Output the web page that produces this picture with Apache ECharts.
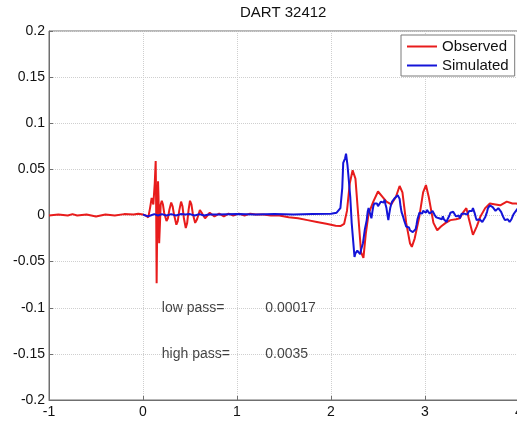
<!DOCTYPE html>
<html>
<head>
<meta charset="utf-8">
<script src="https://cdn.jsdelivr.net/npm/echarts@6/dist/echarts.min.js"></script>
<style>
  html, body { margin: 0; padding: 0; background: #fff; }
  #chart { width: 517px; height: 424px; }
</style>
</head>
<body>
<div id="chart"></div>
<script>
// Axis ranges and ticks
const xTicks = { min: -1, max: 4, step: 1 };
const yTicks = { min: -0.2, max: 0.2, step: 0.05 };

const chartTitle = 'DART 32412';
const seriesNames = ['Observed', 'Simulated'];

// Observed water level anomaly [time, level]
const observed = [
  [-1.00, 0.000], [-0.90, 0.001], [-0.80, 0.000], [-0.75, 0.0015], [-0.70, 0.000],
  [-0.60, 0.001], [-0.50, -0.001], [-0.40, 0.001], [-0.30, 0.000], [-0.20, 0.0015],
  [-0.10, 0.001], [-0.05, 0.002], [0.00, 0.001], [0.03, 0.000], [0.056, -0.002],
  [0.075, 0.008], [0.092, 0.019], [0.11, 0.012], [0.125, 0.035], [0.135, 0.059],
  [0.140, 0.010], [0.145, -0.0735], [0.152, 0.000], [0.160, 0.037], [0.165, 0.020],
  [0.172, -0.030], [0.180, -0.010], [0.188, 0.012], [0.20, 0.016], [0.212, 0.012],
  [0.225, 0.003], [0.25, -0.006], [0.265, -0.003], [0.28, 0.006], [0.30, 0.014],
  [0.315, 0.010], [0.33, 0.001], [0.355, -0.010], [0.37, -0.006], [0.385, 0.005],
  [0.405, 0.015], [0.42, 0.010], [0.435, -0.003], [0.455, -0.0135], [0.47, -0.008],
  [0.485, 0.006], [0.50, 0.016], [0.515, 0.012], [0.53, 0.002], [0.555, -0.008],
  [0.575, -0.004], [0.605, 0.006], [0.63, 0.002], [0.66, -0.003], [0.71, 0.003],
  [0.76, -0.001], [0.81, 0.002], [0.86, -0.001], [0.91, 0.002], [0.96, 0.000],
  [1.02, 0.002], [1.08, 0.000], [1.14, 0.002], [1.20, 0.001], [1.28, 0.001],
  [1.36, 0.000], [1.45, 0.000], [1.55, -0.002], [1.65, -0.003], [1.75, -0.005],
  [1.85, -0.007], [1.95, -0.009], [2.05, -0.011], [2.10, -0.0115], [2.14, -0.009],
  [2.17, 0.005], [2.20, 0.035], [2.23, 0.049], [2.26, 0.040], [2.29, 0.000],
  [2.32, -0.040], [2.345, -0.046], [2.37, -0.020], [2.40, 0.002], [2.45, 0.015],
  [2.50, 0.026], [2.55, 0.020], [2.59, 0.015], [2.64, 0.012], [2.69, 0.020],
  [2.73, 0.032], [2.76, 0.025], [2.80, -0.008], [2.84, -0.030], [2.86, -0.034],
  [2.89, -0.025], [2.94, -0.001], [2.98, 0.025], [3.01, 0.033], [3.04, 0.020],
  [3.09, -0.008], [3.13, -0.016], [3.17, -0.012], [3.22, -0.008], [3.27, -0.005],
  [3.33, -0.004], [3.37, -0.003], [3.41, 0.004], [3.44, 0.008], [3.47, -0.005],
  [3.51, -0.021], [3.55, -0.012], [3.59, -0.001], [3.64, 0.008], [3.69, 0.013],
  [3.75, 0.012], [3.80, 0.011], [3.87, 0.015], [3.93, 0.013], [3.97, 0.013],
  [4.00, 0.012]
];

// Simulated water level anomaly [time, level]
const simulated = [
  [0.00, 0.001], [0.05, -0.001], [0.08, 0.000], [0.12, 0.0015], [0.16, 0.000],
  [0.20, 0.0015], [0.25, 0.000], [0.30, 0.0015], [0.35, 0.000], [0.40, 0.0015],
  [0.45, 0.001], [0.50, 0.0015], [0.55, 0.000], [0.60, 0.0015], [0.65, 0.000],
  [0.70, 0.001], [0.80, 0.001], [1.00, 0.0015], [1.20, 0.001], [1.40, 0.0015],
  [1.60, 0.001], [1.80, 0.0015], [2.00, 0.002], [2.06, 0.003], [2.10, 0.008],
  [2.12, 0.030], [2.13, 0.057], [2.15, 0.062], [2.16, 0.067], [2.175, 0.055],
  [2.19, 0.053], [2.205, 0.020], [2.22, -0.008], [2.25, -0.045], [2.26, -0.041],
  [2.27, -0.043], [2.28, -0.038], [2.29, -0.040], [2.30, -0.038], [2.31, -0.042],
  [2.32, -0.037], [2.34, -0.030], [2.36, -0.015], [2.38, -0.005], [2.39, 0.004],
  [2.40, 0.008], [2.41, 0.004], [2.42, 0.002], [2.43, -0.003], [2.44, 0.004],
  [2.45, 0.010], [2.46, 0.013], [2.47, 0.015], [2.48, 0.011], [2.49, 0.013],
  [2.50, 0.010], [2.51, 0.012], [2.52, 0.011], [2.53, 0.015], [2.54, 0.013],
  [2.55, 0.016], [2.56, 0.014], [2.57, 0.017], [2.58, 0.012], [2.59, 0.008],
  [2.60, 0.001], [2.61, -0.005], [2.62, 0.002], [2.63, 0.008], [2.64, 0.012],
  [2.65, 0.015], [2.66, 0.017], [2.67, 0.015], [2.68, 0.019], [2.69, 0.020],
  [2.70, 0.018], [2.71, 0.022], [2.72, 0.024], [2.73, 0.018], [2.74, 0.010],
  [2.75, 0.004], [2.76, 0.001], [2.77, -0.001], [2.78, -0.006], [2.79, -0.009],
  [2.80, -0.012], [2.81, -0.010], [2.82, -0.014], [2.83, -0.013], [2.84, -0.016],
  [2.85, -0.017], [2.86, -0.015], [2.87, -0.018], [2.88, -0.016], [2.89, -0.019],
  [2.90, -0.015], [2.91, -0.010], [2.92, -0.004], [2.93, -0.001], [2.94, 0.003],
  [2.95, 0.001], [2.96, 0.004], [2.97, 0.002], [2.98, 0.005], [2.99, 0.004],
  [3.00, 0.006], [3.01, 0.003], [3.02, 0.006], [3.03, 0.004], [3.04, 0.005],
  [3.05, 0.002], [3.06, 0.004], [3.07, 0.001], [3.08, 0.005], [3.09, 0.004],
  [3.10, 0.001], [3.11, 0.002], [3.12, -0.002], [3.13, -0.001], [3.14, -0.004],
  [3.15, -0.003], [3.16, -0.005], [3.17, -0.002], [3.18, -0.004], [3.19, -0.001],
  [3.20, -0.004], [3.21, -0.006], [3.22, -0.004], [3.23, -0.007], [3.24, -0.004],
  [3.25, -0.002], [3.26, 0.000], [3.27, 0.003], [3.28, 0.001], [3.29, 0.005],
  [3.30, 0.004], [3.31, 0.002], [3.32, 0.003], [3.33, -0.001], [3.34, 0.001],
  [3.35, -0.002], [3.36, 0.000], [3.37, -0.003], [3.38, -0.001], [3.39, 0.002],
  [3.40, 0.003], [3.41, 0.001], [3.42, 0.002], [3.43, 0.000], [3.44, 0.003],
  [3.45, 0.001], [3.46, 0.002], [3.47, 0.005], [3.48, 0.004], [3.49, 0.006],
  [3.50, 0.005], [3.51, 0.008], [3.52, 0.006], [3.53, 0.002], [3.54, -0.002],
  [3.55, -0.005], [3.56, -0.003], [3.57, -0.005], [3.58, -0.004], [3.59, -0.006],
  [3.60, -0.005], [3.61, -0.007], [3.62, -0.008], [3.63, -0.005], [3.64, -0.002],
  [3.65, 0.000], [3.66, 0.004], [3.67, 0.008], [3.68, 0.010], [3.69, 0.011],
  [3.70, 0.009], [3.71, 0.011], [3.72, 0.009], [3.73, 0.007], [3.74, 0.008],
  [3.75, 0.005], [3.76, 0.007], [3.77, 0.006], [3.78, 0.008], [3.79, 0.006],
  [3.80, 0.007], [3.81, 0.004], [3.82, 0.002], [3.83, -0.001], [3.84, -0.003],
  [3.85, -0.005], [3.86, -0.003], [3.87, -0.005], [3.88, -0.004], [3.89, -0.006],
  [3.90, -0.007], [3.91, -0.005], [3.92, -0.004], [3.93, -0.002], [3.94, 0.001],
  [3.95, 0.002], [3.96, 0.004], [3.97, 0.006], [3.98, 0.005], [3.99, 0.008],
  [4.00, 0.010]
];

// Filter settings written inside the plot [time, level, text]
const filterNotes = [
  [0.2, -0.10, 'low pass='],
  [1.3, -0.10, '0.00017'],
  [0.2, -0.15, 'high pass='],
  [1.3, -0.15, '0.0035']
];

const FONT = '"Liberation Sans", Arial, Helvetica, sans-serif';
const AXIS_GRAY = '#6f6f6f';
const GRID_GRAY = '#cfcfcf';

const chart = echarts.init(document.getElementById('chart'), null, { renderer: 'canvas' });

chart.setOption({
  animation: false,
  backgroundColor: '#ffffff',
  title: {
    text: chartTitle,
    left: 240,
    top: 5,
    padding: 0,
    textStyle: { fontFamily: FONT, fontSize: 15, fontWeight: 'normal', color: '#111' }
  },
  legend: {
    data: seriesNames,
    orient: 'vertical',
    left: 401,
    top: 35,
    padding: [3, 6, 2, 6],
    itemGap: 2,
    itemWidth: 30,
    itemHeight: 2,
    icon: 'rect',
    backgroundColor: '#ffffff',
    borderColor: '#7a7a7a',
    borderWidth: 1,
    borderRadius: 0,
    textStyle: { fontFamily: FONT, fontSize: 15, color: '#111', lineHeight: 17 }
  },
  grid: {
    left: 49,
    right: -2,
    top: 31,
    bottom: 24,
    outerBoundsMode: 'none',
    containLabel: false,
    show: true,
    borderColor: AXIS_GRAY,
    borderWidth: 1,
    backgroundColor: 'transparent'
  },
  xAxis: {
    type: 'value',
    min: xTicks.min,
    max: xTicks.max,
    interval: xTicks.step,
    axisLine: { show: true, onZero: false, lineStyle: { color: AXIS_GRAY, width: 1 } },
    axisTick: { show: true, inside: true, length: 4, lineStyle: { color: AXIS_GRAY } },
    splitLine: { show: true, lineStyle: { color: GRID_GRAY, type: 'dotted', width: 1 } },
    axisLabel: { fontFamily: FONT, fontSize: 14, color: '#111', margin: 5 }
  },
  yAxis: {
    type: 'value',
    min: yTicks.min,
    max: yTicks.max,
    interval: yTicks.step,
    axisLine: { show: true, onZero: false, lineStyle: { color: AXIS_GRAY, width: 1 } },
    axisTick: { show: true, inside: true, length: 4, lineStyle: { color: AXIS_GRAY } },
    splitLine: { show: true, lineStyle: { color: GRID_GRAY, type: 'dotted', width: 1 } },
    axisLabel: { fontFamily: FONT, fontSize: 14, color: '#111', margin: 4 }
  },
  series: [
    {
      name: seriesNames[0],
      type: 'line',
      data: observed,
      symbol: 'none',
      smooth: false,
      color: '#e81c1c',
      lineStyle: { color: '#e81c1c', width: 2 },
      z: 3
    },
    {
      name: seriesNames[1],
      type: 'line',
      data: simulated,
      symbol: 'none',
      smooth: false,
      color: '#1414d8',
      lineStyle: { color: '#1414d8', width: 2 },
      z: 4
    },
    {
      name: 'notes',
      type: 'scatter',
      data: filterNotes,
      symbolSize: 0,
      silent: true,
      label: {
        show: true,
        position: 'right',
        distance: 0,
        formatter: p => p.value[2],
        fontFamily: FONT,
        fontSize: 14,
        color: '#111'
      },
      z: 5
    }
  ]
});
</script>
</body>
</html>
